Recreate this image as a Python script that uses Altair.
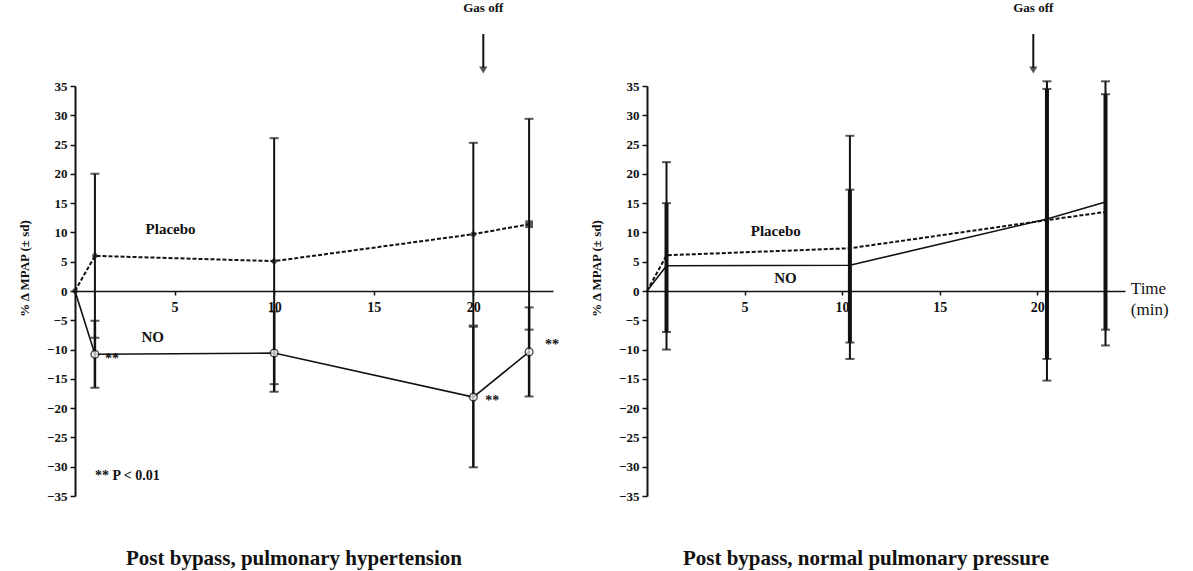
import altair as alt
import pandas as pd

# ---- Post bypass, pulmonary hypertension ----
ph_time = [0, 1, 10, 20, 22.8]
ph_placebo = [0, 6.0, 5.1, 9.7, 11.4]
ph_placebo_hi = [0, 20.0, 26.1, 25.3, 29.4]
ph_placebo_lo = [0, -8.0, -15.9, -5.9, -6.6]
ph_no = [0, -10.8, -10.6, -18.1, -10.4]
ph_no_hi = [0, -5.1, -3.5, -6.1, -2.8]
ph_no_lo = [0, -16.5, -17.2, -30.1, -18.0]

# ---- Post bypass, normal pulmonary pressure ----
np_time = [0, 1, 10.4, 20.5, 23.5]
np_placebo = [0, 6.1, 7.3, 12.1, 13.5]
np_placebo_hi = [0, 22.0, 26.5, 35.8, 35.8]
np_placebo_lo = [0, -10.0, -11.6, -15.3, -9.3]
np_no = [0, 4.3, 4.4, 12.3, 15.2]
np_no_hi = [0, 15.0, 17.3, 34.5, 33.6]
np_no_lo = [0, -7.0, -8.8, -11.6, -6.6]

y_ticks = list(range(-35, 40, 5))
x_ticks = [5, 10, 15, 20]

FONT = "Liberation Serif"
INK = "#111111"
W, H = 478, 410

Y_SCALE = alt.Scale(domain=[-35, 35], nice=False)
Y_AXIS = alt.Axis(values=y_ticks, title="% \u0394 MPAP  (\u00b1 sd)", grid=False,
                  tickSize=5, domainWidth=2, tickWidth=1.5, labelPadding=3,
                  labelFont=FONT, labelFontSize=13, labelFontWeight="bold",
                  labelColor=INK, domainColor=INK, tickColor=INK,
                  titleFont=FONT, titleFontSize=13, titleFontWeight="bold",
                  titleColor=INK, titlePadding=15, titleY=182)


def yenc(field):
    return alt.Y(f"{field}:Q", scale=Y_SCALE, axis=Y_AXIS)


def frame(time, mean, hi, lo, group):
    return pd.DataFrame({"time": time, "value": mean, "hi": hi, "lo": lo, "group": group})


def panel(time, plac, plac_hi, plac_lo, no, no_hi, no_lo, xmax, bar_w, no_bar_w):
    df = pd.concat([
        frame(time, plac, plac_hi, plac_lo, "Placebo"),
        frame(time, no, no_hi, no_lo, "NO"),
    ], ignore_index=True)
    err = df[df["time"] > 0]

    x = alt.X("time:Q", scale=alt.Scale(domain=[0, xmax], nice=False, zero=False),
              axis=alt.Axis(values=x_ticks, offset=-H / 2, title=None, grid=False,
                            tickSize=4, labelPadding=5, domainWidth=1.5, tickWidth=1.5,
                            labelFont=FONT, labelFontSize=14, labelFontWeight="bold",
                            labelColor=INK, domainColor=INK, tickColor=INK))
    y = yenc("value")

    plac_df = alt.datum.group == "Placebo"
    no_df = alt.datum.group == "NO"

    base = alt.Chart(df)
    ebase = alt.Chart(err)

    layers = [
        base.transform_filter(plac_df).mark_line(color=INK, strokeWidth=2, strokeDash=[4, 2]).encode(x=x, y=y),
        base.transform_filter(no_df).mark_line(color=INK, strokeWidth=1.6).encode(x=x, y=y),
        ebase.transform_filter(plac_df).mark_rule(color=INK, strokeWidth=bar_w).encode(
            x=x, y=yenc("lo"), y2="hi:Q"),
        ebase.transform_filter(no_df).mark_rule(color=INK, strokeWidth=no_bar_w).encode(
            x=x, y=yenc("lo"), y2="hi:Q"),
        ebase.mark_tick(color=INK, orient="horizontal", size=9, thickness=2).encode(x=x, y=yenc("hi")),
        ebase.mark_tick(color=INK, orient="horizontal", size=9, thickness=2).encode(x=x, y=yenc("lo")),
    ]
    return df, layers, x, y


# left panel
ldf, llayers, lx, ly = panel(ph_time, ph_placebo, ph_placebo_hi, ph_placebo_lo,
                             ph_no, ph_no_hi, ph_no_lo, 24, 2, 2.5)
lbase = alt.Chart(ldf)
last_t = ph_time[-1]
llayers += [
    lbase.transform_filter((alt.datum.group == "Placebo") & (alt.datum.time < last_t)).mark_point(
        shape="circle", filled=True, color=INK, size=30).encode(x=lx, y=ly),
    lbase.transform_filter((alt.datum.group == "Placebo") & (alt.datum.time == last_t)).mark_point(
        shape="square", filled=True, color=INK, size=60).encode(x=lx, y=ly),
    lbase.transform_filter((alt.datum.group == "NO") & (alt.datum.time > 0)).mark_point(
        shape="circle", filled=True, fill="white", stroke=INK, strokeWidth=1.5, size=60).encode(x=lx, y=ly),
]

ann_l = pd.DataFrame({
    "time": [4.8, 3.9, 1.0, 1.5, 20.6, 23.6],
    "value": [10.6, -7.8, -31.6, -11.6, -18.8, -9.2],
    "label": ["Placebo", "NO", "** P < 0.01", "**", "**", "**"],
    "align": ["center", "center", "left", "left", "left", "left"],
})
llayers += [
    alt.Chart(ann_l[ann_l["align"] == "center"]).mark_text(
        font=FONT, fontSize=15, fontWeight="bold", color=INK, align="center", baseline="middle"
    ).encode(x=lx, y=ly, text="label:N"),
    alt.Chart(ann_l[ann_l["align"] == "left"]).mark_text(
        font=FONT, fontSize=14, fontWeight="bold", color=INK, align="left", baseline="middle"
    ).encode(x=lx, y=ly, text="label:N"),
]

# right panel
rdf, rlayers, rx, ry = panel(np_time, np_placebo, np_placebo_hi, np_placebo_lo,
                             np_no, np_no_hi, np_no_lo, 24.5, 2, 4)
ann_r = pd.DataFrame({
    "time": [6.6, 7.1],
    "value": [10.2, 2.2],
    "label": ["Placebo", "NO"],
})
rlayers += [
    alt.Chart(ann_r).mark_text(font=FONT, fontSize=15, fontWeight="bold", color=INK,
                               align="center", baseline="middle").encode(x=rx, y=ry, text="label:N"),
    alt.Chart(pd.DataFrame({"time": [24.8], "value": [0.3], "label": ["Time\n(min)"]})).mark_text(
        font=FONT, fontSize=17, color=INK, align="left", baseline="middle", lineBreak="\n",
        lineHeight=21).encode(x=rx, y=ry, text="label:N"),
]


def gas_off(xv, xenc):
    d = pd.DataFrame({"time": [xv]})
    return [
        alt.Chart(d).mark_text(text="Gas off", font=FONT, fontSize=13, fontWeight="bold",
                               color=INK, baseline="middle").encode(x=xenc, y=alt.value(-78)),
        alt.Chart(d).mark_rule(color=INK, strokeWidth=2).encode(
            x=xenc, y=alt.value(-52), y2=alt.value(-18)),
        alt.Chart(d).mark_point(shape="triangle-down", filled=True, color=INK, size=70).encode(
            x=xenc, y=alt.value(-16)),
    ]


llayers += gas_off(20.5, lx)
rlayers += gas_off(19.8, rx)


def title(t):
    return alt.TitleParams(t, orient="bottom", font=FONT, fontSize=21, fontWeight="bold",
                           color=INK, offset=45, dx=-20)


left = alt.layer(*llayers).properties(width=W, height=H, title=title("Post bypass, pulmonary hypertension"))
right = alt.layer(*rlayers).properties(width=W, height=H, title=title("Post bypass, normal pulmonary pressure"))

chart = alt.hconcat(left, right, spacing=94, bounds="flush").properties(
    padding={"left": 18, "top": 2, "right": 5, "bottom": 5}, background="white"
).configure_view(stroke=None)

chart.save("out.html", embed_options={"renderer": "svg", "actions": False})
